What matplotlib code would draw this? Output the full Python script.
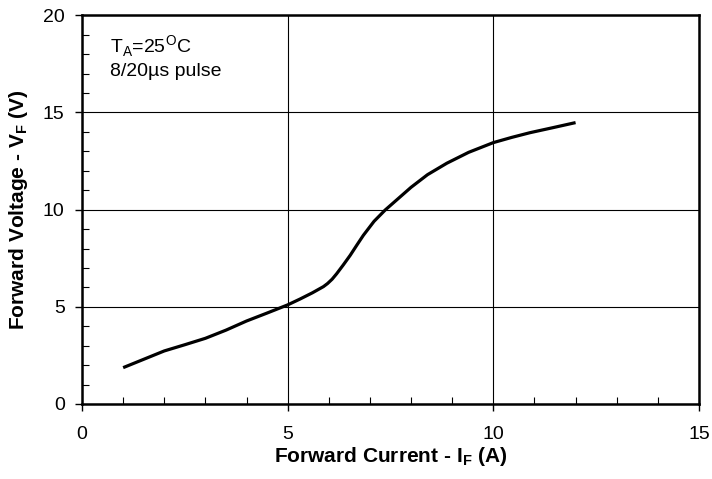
import matplotlib
matplotlib.use('Agg')
import matplotlib.pyplot as plt
from matplotlib.ticker import MultipleLocator

plt.rcParams['font.family'] = ['Liberation Sans', 'DejaVu Sans']
plt.rcParams['mathtext.fontset'] = 'custom'
plt.rcParams['mathtext.rm'] = 'Liberation Sans'
plt.rcParams['mathtext.bf'] = 'Liberation Sans:bold'

# forward current (A) vs forward voltage (V)
current = [1.0, 1.5, 2.0, 2.5, 3.0, 3.5, 4.0, 4.5, 5.0, 5.3, 5.6, 5.87, 5.97,
           6.08, 6.19, 6.35, 6.52, 6.68, 6.84, 7.1, 7.37, 7.65, 8.0, 8.4, 8.87,
           9.4, 10.0, 10.45, 10.89, 11.45, 12.0]
voltage = [1.87, 2.3, 2.73, 3.05, 3.38, 3.8, 4.27, 4.68, 5.1, 5.4, 5.72, 6.04,
           6.2, 6.42, 6.7, 7.15, 7.65, 8.17, 8.68, 9.4, 9.98, 10.5, 11.15,
           11.8, 12.39, 12.95, 13.45, 13.72, 13.96, 14.22, 14.48]

fig = plt.figure(figsize=(7.12, 4.79), dpi=100)
ax = fig.add_axes([0.1152, 0.1566, 0.8665, 0.8114])

ax.plot(current, voltage, color='black', lw=2.3, solid_capstyle='butt')

ax.set_xlim(0, 15)
ax.set_ylim(0, 20)
ax.xaxis.set_major_locator(MultipleLocator(5))
ax.yaxis.set_major_locator(MultipleLocator(5))
ax.xaxis.set_minor_locator(MultipleLocator(1))
ax.yaxis.set_minor_locator(MultipleLocator(1))
ax.tick_params(which='major', direction='out', length=5, width=1, labelsize=14)
ax.tick_params(axis='x', which='major', pad=11)
ax.tick_params(axis='y', which='major', pad=7.5)
ax.tick_params(which='minor', direction='in', length=5, width=0.8)
ax.grid(which='major', color='black', lw=0.8)

for s in ax.spines.values():
    s.set_linewidth(1.8)

ax.set_xlabel(r'Forward Current - I$_\mathbf{F}$ (A)', fontsize=15, fontweight='bold', labelpad=1)
ax.set_ylabel(r'Forward Voltage - V$_\mathbf{F}$ (V)', fontsize=15, fontweight='bold', labelpad=9)

ax.text(0.68, 18.06, r'T$_\mathregular{A}$=25$^\mathregular{O}$C', fontsize=14, va='baseline')
ax.text(0.68, 16.88, '8/20\u00b5s pulse', fontsize=14, va='baseline')

fig.savefig('out.png', dpi=100)
